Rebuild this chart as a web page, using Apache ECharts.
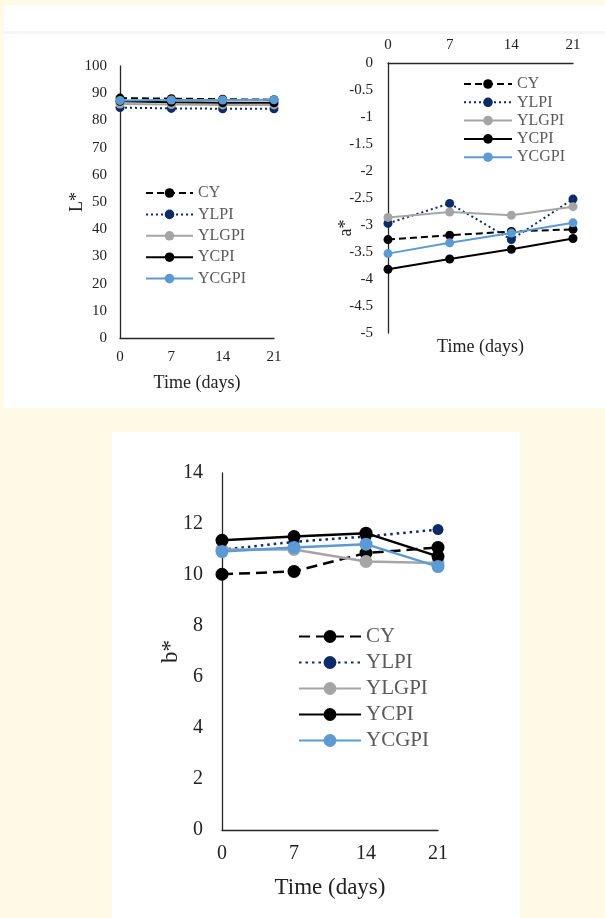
<!DOCTYPE html>
<html><head><meta charset="utf-8">
<script src="https://cdn.jsdelivr.net/npm/echarts@6/dist/echarts.min.js"></script>
<style>
html,body{margin:0;padding:0;background:#FFFAE6;overflow:hidden;}
#bg1{position:absolute;left:4px;top:5px;width:601px;height:403px;background:#fff;}
#sep{position:absolute;left:4px;top:31px;width:601px;height:3px;background:#f5f5f5;}
#bg2{position:absolute;left:112px;top:432px;width:408px;height:486px;background:#fff;}
#chart{position:absolute;left:0;top:0;width:605px;height:918px;}
</style></head><body>
<div id="bg1"></div><div id="sep"></div><div id="bg2"></div>
<div id="chart"></div>
<script>
// ---- data ----
const days = [0, 7, 14, 21];
const seriesNames = ['CY', 'YLPI', 'YLGPI', 'YCPI', 'YCGPI'];
const lTicksMax = 100;
// L*
const L_CY    = [88.2, 88.0, 87.8, 87.6];
const L_YLPI  = [84.7, 84.4, 84.3, 84.3];
const L_YLGPI = [86.0, 85.8, 85.7, 85.7];
const L_YCPI  = [87.0, 86.7, 86.5, 86.5];
const L_YCGPI = [87.3, 87.5, 87.5, 87.6];
// a*
const A_CY    = [-3.27, -3.19, -3.12, -3.08];
const A_YLPI  = [-2.97, -2.60, -3.27, -2.52];
const A_YLGPI = [-2.86, -2.76, -2.82, -2.66];
const A_YCPI  = [-3.82, -3.63, -3.45, -3.25];
const A_YCGPI = [-3.53, -3.33, -3.15, -2.96];
// b*
const B_CY    = [10.03, 10.14, 10.86, 11.08];
const B_YLPI  = [10.99, 11.30, 11.51, 11.78];
const B_YLGPI = [11.00, 11.00, 10.53, 10.47];
const B_YCPI  = [11.36, 11.51, 11.64, 10.73];
const B_YCGPI = [10.92, 11.08, 11.21, 10.33];

const datasets = [
  [L_CY, L_YLPI, L_YLGPI, L_YCPI, L_YCGPI],
  [A_CY, A_YLPI, A_YLGPI, A_YCPI, A_YCGPI],
  [B_CY, B_YLPI, B_YLGPI, B_YCPI, B_YCGPI]
];

// ---- styles ----
const FONT = "'Liberation Serif','Times New Roman',serif";
const colors = ['#000000', '#0D2B6B', '#A5A5A5', '#000000', '#5B9BD5'];
const chartStyle = [
  {lw: 2, sym: 9, dash: [7, 4], dot: [2, 3]},
  {lw: 2, sym: 9, dash: [7, 4], dot: [2, 3]},
  {lw: 2.5, sym: 13, dash: [11, 6], dot: [2.5, 4]}
];
function lineType(si, cs) {
  if (si === 0) return cs.dash;
  if (si === 1) return cs.dot;
  return 'solid';
}

const series = [];
datasets.forEach((set, ci) => {
  const cs = chartStyle[ci];
  set.forEach((vals, si) => {
    series.push({
      type: 'line',
      name: seriesNames[si] + '_' + ci,
      xAxisIndex: ci,
      yAxisIndex: ci,
      data: vals.map((v, i) => [days[i], v]),
      symbol: 'circle',
      symbolSize: (ci === 2 && si === 1) ? 11 : cs.sym,
      showSymbol: true,
      itemStyle: {color: colors[si]},
      lineStyle: {color: colors[si], width: cs.lw, type: lineType(si, cs)},
      emphasis: {disabled: true},
      animation: false,
      z: 2 + si
    });
  });
});

const axisLine = {show: true, lineStyle: {color: '#262626', width: 1.3}};
function xAxisBase(gi, fs, margin, pos) {
  return {
    type: 'value', gridIndex: gi, min: 0, max: 21, interval: 7, position: pos,
    axisLine: axisLine, axisTick: {show: false}, splitLine: {show: false},
    nameMoveOverlap: false,
    axisLabel: {fontFamily: FONT, fontSize: fs, color: '#222', margin: margin}
  };
}
function yAxisBase(gi, min, max, interval, fs, margin) {
  return {
    type: 'value', gridIndex: gi, min: min, max: max, interval: interval,
    axisLine: axisLine, axisTick: {show: false}, splitLine: {show: false},
    nameMoveOverlap: false,
    axisLabel: {fontFamily: FONT, fontSize: fs, color: '#222', margin: margin}
  };
}

const x0 = xAxisBase(0, 15, 12, 'bottom');
x0.name = 'Time (days)'; x0.nameLocation = 'middle'; x0.nameGap = 36;
x0.nameTextStyle = {fontFamily: FONT, fontSize: 18, color: '#222'};
const x1 = xAxisBase(1, 15, 10, 'top');
const x2 = xAxisBase(2, 20, 14, 'bottom');
x2.name = 'Time (days)'; x2.nameLocation = 'middle'; x2.nameGap = 46;
x2.nameTextStyle = {fontFamily: FONT, fontSize: 23, color: '#222'};
const x1b = {
  type: 'value', gridIndex: 1, min: 0, max: 21, interval: 7, position: 'bottom',
  axisLine: {show: false}, axisTick: {show: false}, axisLabel: {show: false}, splitLine: {show: false},
  nameMoveOverlap: false,
  name: 'Time (days)', nameLocation: 'middle', nameGap: 5,
  nameTextStyle: {fontFamily: FONT, fontSize: 18, color: '#222'}
};

const y0 = yAxisBase(0, 0, lTicksMax, 10, 15, 13);
y0.name = 'L*'; y0.nameLocation = 'middle'; y0.nameGap = 34;
y0.nameTextStyle = {fontFamily: FONT, fontSize: 18, color: '#222'};
const y1 = yAxisBase(1, -5, 0, 0.5, 15, 15);
const y2 = yAxisBase(2, 0, 14, 2, 20, 19);
y2.name = 'b*'; y2.nameLocation = 'middle'; y2.nameGap = 40;
y2.nameTextStyle = {fontFamily: FONT, fontSize: 23, color: '#222'};

function legend(ci, left, top, iw, ih, gap, fs) {
  return {
    data: seriesNames.map(n => n + '_' + ci),
    orient: 'vertical', left: left, top: top,
    itemWidth: iw, itemHeight: ih, itemGap: gap,
    selectedMode: false,
    formatter: n => n.split('_')[0],
    textStyle: {fontFamily: FONT, fontSize: fs, color: '#595959', padding: [0, 0, 0, 0]}
  };
}

const option = {
  animation: false,
  grid: [
    {left: 120, top: 66, width: 154, height: 272},
    {left: 388, top: 63, width: 185, height: 270},
    {left: 222, top: 473, width: 216, height: 357}
  ],
  xAxis: [x0, x1, x2, x1b],
  yAxis: [y0, y1, y2],
  legend: [
    legend(0, 140, 180, 47, 12, 5.4, 16),
    legend(1, 458, 71, 48, 12, 2.3, 16),
    legend(2, 293, 621, 62, 16, 5, 21)
  ],
  graphic: [{
    type: 'text', x: 346, y: 228, rotation: Math.PI / 2,
    style: {text: 'a*', fontFamily: FONT, fontSize: 18, fill: '#222', align: 'center', verticalAlign: 'middle'}
  }],
  series: series
};

const chart = echarts.init(document.getElementById('chart'), null, {renderer: 'canvas'});
chart.setOption(option);
</script>
</body></html>
